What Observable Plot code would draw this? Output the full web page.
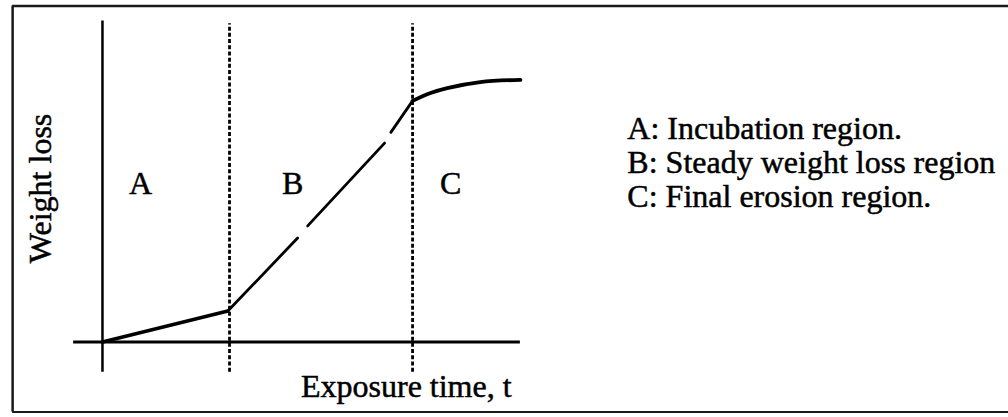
<!DOCTYPE html>
<html>
<head>
<meta charset="utf-8">
<script src="https://cdn.jsdelivr.net/npm/d3@7"></script>
<script src="https://cdn.jsdelivr.net/npm/@observablehq/plot@0.6"></script>
<style>
  html, body { margin: 0; padding: 0; background: #fff; }
  svg { display: block; }
</style>
</head>
<body>
<div id="chart"></div>
<script>
// Schematic erosion curve (arbitrary units): exposure time t vs weight loss w
const curveT   = [0, 3.0, 4.67, 4.91, 6.75, 6.90, 7.42, 7.42, 7.85, 8.25, 9.04, 10];
const curveW   = [0, 1.18, 3.97, 4.43, 7.59, 8.0, 9.2, 9.2, 9.5, 9.69, 9.92, 10];
const curveSeg = [1, 1, 2, 2, 2, 3, 3, 4, 4, 4, 4, 4];
const segWidth = [3.6, 2.8, 2.8, 3.8];

// Region boundaries (dashed lines)
const boundaries = [3.04, 7.42];

// Region letters
const regionLetters = ["A", "B", "C"];
const regionCenters = [0.91, 4.55, 8.33];

// Legend lines
const legendLines = ["A: Incubation region.", "B: Steady weight loss region", "C: Final erosion region."];

const yLabel = "Weight loss";
const xLabel = "Exposure time, t";

// segment 2 starts at the kink (shares the point with segment 1), with a scan gap before segment 3
const curvePts = curveT.map((t, i) => ({t, w: curveW[i], seg: curveSeg[i]}));
const segA = curvePts.slice(0, 2);
const segB1 = [curvePts[1], curvePts[2]];
const segB2 = [curvePts[3], curvePts[4]];
const segB3 = [curvePts[5], curvePts[6]];
const segC = curvePts.filter(d => d.seg === 4);
const letters = regionLetters.map((s, i) => ({s, t: regionCenters[i]}));
const legend = legendLines.map((s, i) => ({s, i}));

const font = "Liberation Serif, Times New Roman, serif";
const ink = {fill: "#000", stroke: "#000", strokeWidth: 0.5};

const chart = Plot.plot({
  width: 1008,
  height: 417,
  margin: 0,
  x: {domain: [-2.44, 21.68], axis: null},
  y: {domain: [-2.88, 13.03], axis: null},
  style: {background: "#fff", fontFamily: font},
  marks: [
    // frame (left, top, bottom)
    Plot.ruleX([-2.15], {y1: -2.67, y2: 12.82, stroke: "#1a1a1a", strokeWidth: 2.5}),
    Plot.ruleY([12.82], {x1: -2.15, x2: 21.68, stroke: "#1a1a1a", strokeWidth: 2.5}),
    Plot.ruleY([-2.67], {x1: -2.15, x2: 21.68, stroke: "#1a1a1a", strokeWidth: 2}),
    // axes
    Plot.ruleX([0], {y1: -1.15, y2: 12.25, stroke: "#000", strokeWidth: 2.5}),
    Plot.ruleY([0], {x1: -0.69, x2: 10, stroke: "#000", strokeWidth: 2.8}),
    // region boundaries
    Plot.ruleX(boundaries, {y1: -1.15, y2: 12.14, stroke: "#000", strokeWidth: 2.8, strokeDasharray: "4,2.2"}),
    // curve
    Plot.line(segA, {x: "t", y: "w", stroke: "#000", strokeWidth: segWidth[0], strokeLinecap: "round"}),
    Plot.line(segB1, {x: "t", y: "w", stroke: "#000", strokeWidth: segWidth[1], strokeLinecap: "round"}),
    Plot.line(segB2, {x: "t", y: "w", stroke: "#000", strokeWidth: segWidth[1], strokeLinecap: "round"}),
    Plot.line(segB3, {x: "t", y: "w", stroke: "#000", strokeWidth: segWidth[2], strokeLinecap: "round"}),
    Plot.line(segC, {x: "t", y: "w", stroke: "#000", strokeWidth: segWidth[3], curve: "catmull-rom", strokeLinecap: "round"}),
    // region letters
    Plot.text(letters, {x: "t", y: 6.03, text: "s", fontSize: 32, lineAnchor: "middle", ...ink}),
    // axis labels
    Plot.text([yLabel], {x: -1.48, y: 5.86, text: d => d, rotate: -90, fontSize: 32, lineAnchor: "middle", ...ink}),
    Plot.text([xLabel], {x: 7.27, y: -1.72, text: d => d, fontSize: 32, lineAnchor: "middle", ...ink}),
    // legend
    Plot.text(legend, {x: 12.56, y: d => 8.13 - d.i * 1.3, text: "s", fontSize: 32, textAnchor: "start", lineAnchor: "middle", ...ink})
  ]
});
document.getElementById("chart").appendChild(chart);
</script>
</body>
</html>
